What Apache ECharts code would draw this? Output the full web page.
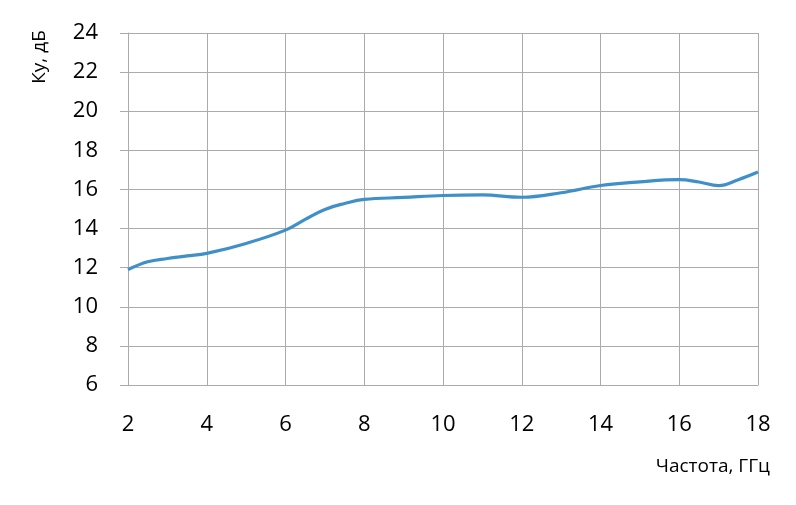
<!DOCTYPE html>
<html>
<head>
<meta charset="utf-8">
<script src="https://cdn.jsdelivr.net/npm/echarts@6/dist/echarts.min.js"></script>
<style>
  html, body { margin: 0; padding: 0; background: #fff; }
  #chart { width: 796px; height: 505px; }
</style>
</head>
<body>
<div id="chart"></div>
<script>
// частота, ГГц
const freq = [2, 2.5, 3, 3.5, 4, 5, 6, 6.5, 7, 7.5, 8, 9, 10, 11, 12, 13, 14, 15, 16, 16.5, 17, 17.5, 18];
// Ку, дБ
const gain = [11.9, 12.3, 12.47, 12.6, 12.73, 13.24, 13.92, 14.47, 14.98, 15.28, 15.49, 15.59, 15.69, 15.72, 15.6, 15.83, 16.2, 16.39, 16.5, 16.38, 16.2, 16.5, 16.89];

const yName = 'Ку, дБ';
const xName = 'Частота, ГГц';

const gridColor = '#ababab';
const font = 'Open Sans';

const chart = echarts.init(document.getElementById('chart'));
chart.setOption({
    animation: false,
    grid: { left: 128, right: 38, top: 33, bottom: 120 },
    xAxis: {
        type: 'value',
        min: 2, max: 18, interval: 2,
        axisLine: { lineStyle: { color: gridColor, width: 1 } },
        axisTick: { show: false },
        axisLabel: { margin: 29, color: '#000', fontSize: 22, fontFamily: font },
        splitLine: { show: true, lineStyle: { color: gridColor, width: 1 } }
    },
    yAxis: {
        type: 'value',
        min: 6, max: 24, interval: 2,
        axisLine: { show: true, lineStyle: { color: gridColor, width: 1 } },
        axisTick: { show: true, length: 8, lineStyle: { color: gridColor } },
        axisLabel: { margin: 30, color: '#000', fontSize: 22, fontFamily: font },
        splitLine: { show: true, lineStyle: { color: gridColor, width: 1 } }
    },
    graphic: [
        {
            type: 'text', x: 40, y: 57, rotation: Math.PI / 2,
            style: { text: yName, fontSize: 19, fontFamily: font, fill: '#000', align: 'center', verticalAlign: 'middle' }
        },
        {
            type: 'text', x: 770, y: 467,
            style: { text: xName, fontSize: 19, fontFamily: font, fill: '#000', align: 'right', verticalAlign: 'middle' }
        }
    ],
    series: [{
        type: 'line',
        data: freq.map((f, i) => [f, gain[i]]),
        smooth: 0.4,
        symbol: 'none',
        lineStyle: { color: '#3f8fc8', width: 3.2 }
    }]
});
</script>
</body>
</html>
